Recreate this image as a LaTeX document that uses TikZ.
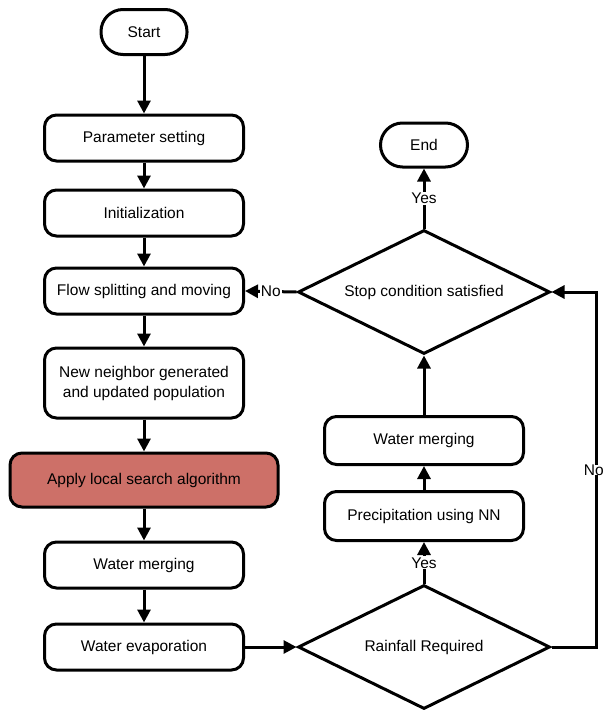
\documentclass[tikz,border=0pt]{standalone}
\usepackage{fontspec}
\setmainfont{Liberation Sans}
\usetikzlibrary{shapes.geometric,arrows.meta}
\definecolor{boxred}{RGB}{205,112,104}
\begin{document}
\begin{tikzpicture}[x=1pt,y=-1pt,
  every node/.style={font=\fontsize{15.5}{20}\selectfont},
  box/.style={draw, line width=3pt, rounded corners=12pt, minimum width=199pt, minimum height=46pt, align=center, inner sep=2pt, fill=white},
  term/.style={draw, line width=3pt, rounded corners=22pt, minimum width=86pt, minimum height=45pt, inner sep=2pt},
  dec/.style={draw, diamond, line width=3pt, minimum width=252pt, minimum height=124pt, inner sep=0pt},
  arr/.style={line width=3pt, -{Triangle[length=13pt,width=13pt]}},
  lab/.style={fill=white, inner sep=1pt}
]
\useasboundingbox (0,0) rectangle (604,710);
\node[term] (start) at (144,32) {Start};
\node[box] (param) at (144,138) {Parameter setting};
\node[box] (init) at (144,213) {Initialization};
\node[box] (flow) at (144,291) {Flow splitting and moving};
\node[box, minimum height=70pt] (new) at (144,383) {New neighbor generated\\and updated population};
\node[box, fill=boxred, minimum width=268pt, minimum height=54pt] (apply) at (144,480) {Apply local search algorithm};
\node[box] (wm) at (144,565) {Water merging};
\node[box] (evap) at (144,647) {Water evaporation};

\node[dec, label=center:Rainfall Required] (rain) at (424,647) {};
\node[box, minimum height=49pt] (precip) at (424,516) {Precipitation using NN};
\node[box, minimum height=48pt] (wm2) at (424,440.5) {Water merging};
\node[dec, label=center:Stop condition satisfied] (stop) at (424,292) {};
\node[term, minimum width=87pt, minimum height=44pt] (end) at (424,145) {End};
\coordinate (rc1) at (596,647);
\coordinate (rc2) at (596,292);

\draw[arr] (start) -- (param);
\draw[arr] (param) -- (init);
\draw[arr] (init) -- (flow);
\draw[arr] (flow) -- (new);
\draw[arr] (new) -- (apply);
\draw[arr] (apply) -- (wm);
\draw[arr] (wm) -- (evap);
\draw[arr] (evap) -- (rain.west);
\draw[arr] (rain.north) -- node[lab] {Yes} (precip.south);
\draw[arr] (precip) -- (wm2);
\draw[arr] (wm2) -- (stop.south);
\draw[arr] (stop.north) -- node[lab] {Yes} (end.south);
\draw[arr] (stop.west) -- node[lab] {No} (flow.east);
\draw[arr] (rain.east) -- (rc1) -- (rc2) -- (stop.east);
\node[lab, inner sep=0pt, anchor=east] (nolab) at (604,470) {No};
\end{tikzpicture}
\end{document}
